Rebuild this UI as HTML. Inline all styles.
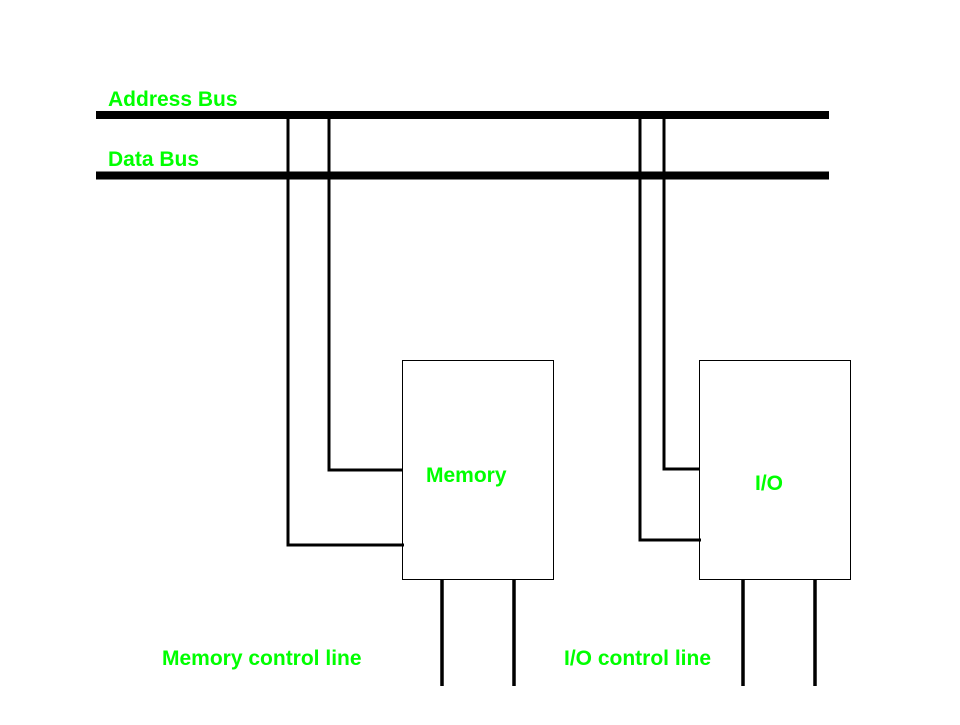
<!DOCTYPE html>
<html><head><style>
body{margin:0;background:#fff;width:960px;height:720px;overflow:hidden}
text{font-family:"Liberation Sans",sans-serif;font-weight:bold;font-size:21px;fill:#00ff00}
</style></head><body>
<svg width="960" height="720" xmlns="http://www.w3.org/2000/svg">
<g stroke="#000" fill="none">
<line x1="96" y1="115" x2="829" y2="115" stroke-width="8"/>
<line x1="96" y1="175.5" x2="829" y2="175.5" stroke-width="8"/>
<polyline points="288,119 288,545 404,545" stroke-width="3"/>
<polyline points="329,115 329,470 402,470" stroke-width="3"/>
<polyline points="640,119 640,540 701,540" stroke-width="3"/>
<polyline points="664,115 664,469 699,469" stroke-width="3"/>
<rect x="402.5" y="360.5" width="151" height="219" stroke-width="1"/>
<rect x="699.5" y="360.5" width="151" height="219" stroke-width="1"/>
<line x1="442" y1="580" x2="442" y2="686" stroke-width="3.5"/>
<line x1="514" y1="580" x2="514" y2="686" stroke-width="3.5"/>
<line x1="743" y1="580" x2="743" y2="686" stroke-width="3.5"/>
<line x1="815" y1="580" x2="815" y2="686" stroke-width="3.5"/>
</g>
<text x="108" y="106">Address Bus</text>
<text x="108" y="166">Data Bus</text>
<text x="426" y="482">Memory</text>
<text x="755" y="490">I/O</text>
<text x="162" y="665">Memory control line</text>
<text x="564" y="665">I/O control line</text>
</svg>
</body></html>
